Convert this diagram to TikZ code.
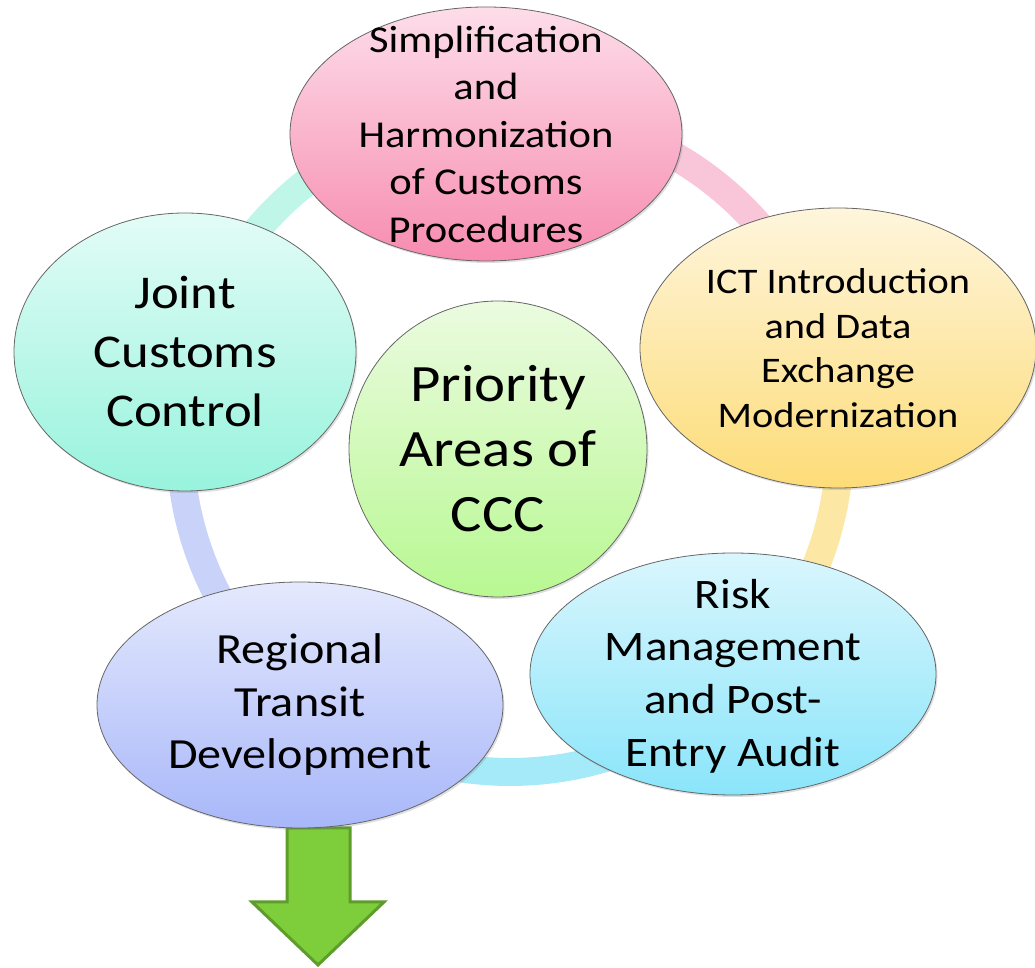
\documentclass[tikz,border=0pt]{standalone}
\usepackage{fontspec}
\setmainfont{Carlito}[FakeStretch=1.12]
\usetikzlibrary{shapes.geometric,shadows}
\definecolor{pinkT}{HTML}{FDDDE9}\definecolor{pinkB}{HTML}{F78CB0}
\definecolor{mintT}{HTML}{E2FCF6}\definecolor{mintB}{HTML}{98F3DD}
\definecolor{yelT}{HTML}{FEF5DC}\definecolor{yelB}{HTML}{FDDC78}
\definecolor{cyaT}{HTML}{DAF6FD}\definecolor{cyaB}{HTML}{8AE5FA}
\definecolor{lavT}{HTML}{E4E9FD}\definecolor{lavB}{HTML}{A8B7F9}
\definecolor{grnT}{HTML}{EBFBE0}\definecolor{grnB}{HTML}{B8F892}
\definecolor{ringPink}{HTML}{F9C5D8}
\definecolor{ringYel}{HTML}{FDE7A4}
\definecolor{ringCya}{HTML}{A4EAF9}
\definecolor{ringLav}{HTML}{C9D3FA}
\definecolor{ringMint}{HTML}{BFF6E8}
\definecolor{arrFill}{HTML}{7DCE3A}
\definecolor{arrLine}{HTML}{5E9C2C}
\begin{document}
\begin{tikzpicture}[x=1pt,y=1pt,
  bub/.style={ellipse, draw=black!60, line width=0.8pt, inner sep=0pt,
    drop shadow={opacity=0.25, shadow xshift=1.5pt, shadow yshift=-2pt}},
  txt/.style={align=center, text=black, inner sep=0pt},
  ringseg/.style={line width=28pt, line cap=butt}]
\useasboundingbox (0,0) rectangle (1035,968);
\coordinate (ringc) at (510,526);
% ring
\draw[ringseg, ringPink] (ringc) ++(94.5:330) arc[start angle=94.5, end angle=16, radius=330];
\draw[ringseg, ringYel] (ringc) ++(16:330) arc[start angle=16, end angle=-46, radius=330];
\draw[ringseg, ringCya] (ringc) ++(-46:330) arc[start angle=-46, end angle=-128.6, radius=330];
\draw[ringseg, ringLav] (ringc) ++(-128.6:330) arc[start angle=-128.6, end angle=-195.5, radius=330];
\draw[ringseg, ringMint] (ringc) ++(164.5:330) arc[start angle=164.5, end angle=94.5, radius=330];
% arrow
\draw[fill=arrFill, draw=arrLine, line width=3pt, line join=miter]
  (287,140) -- (350,140) -- (350,66) -- (384,66) -- (318,3) -- (252,66) -- (287,66) -- cycle;
% bubbles
\node[bub, minimum width=392pt, minimum height=254pt, top color=pinkT, bottom color=pinkB] (simp) at (486,834) {};
\node[bub, minimum width=342pt, minimum height=278pt, top color=mintT, bottom color=mintB] (joint) at (185,616) {};
\node[bub, minimum width=396pt, minimum height=280pt, top color=yelT, bottom color=yelB] (ict) at (838,620) {};
\node[bub, minimum width=406pt, minimum height=242pt, top color=cyaT, bottom color=cyaB] (risk) at (733,294) {};
\node[bub, minimum width=406pt, minimum height=246pt, top color=lavT, bottom color=lavB] (reg) at (300,263) {};
\node[bub, minimum width=298pt, minimum height=296pt, top color=grnT, bottom color=grnB] (prio) at (498,519) {};
% texts
\node[txt, font=\fontsize{38}{47.5}\selectfont] (simpt) at (simp) {Simplification\\and\\Harmonization\\of Customs\\Procedures};
\node[txt, font=\fontsize{47}{59}\selectfont] (jointt) at (joint) {Joint\\Customs\\Control};
\node[txt, font=\fontsize{36}{44.5}\selectfont] (ictt) at (ict) {ICT Introduction\\and Data\\Exchange\\Modernization};
\node[txt, font=\fontsize{42}{52.7}\selectfont] (riskt) at ([yshift=-2pt]risk) {Risk\\Management\\and Post-\\Entry Audit};
\node[txt, font=\fontsize{43}{52.5}\selectfont] (regt) at (reg) {Regional\\Transit\\Development};
\node[txt, font=\fontsize{52.5}{65}\selectfont] (priot) at (prio) {Priority\\Areas of\\CCC};
\end{tikzpicture}
\end{document}
